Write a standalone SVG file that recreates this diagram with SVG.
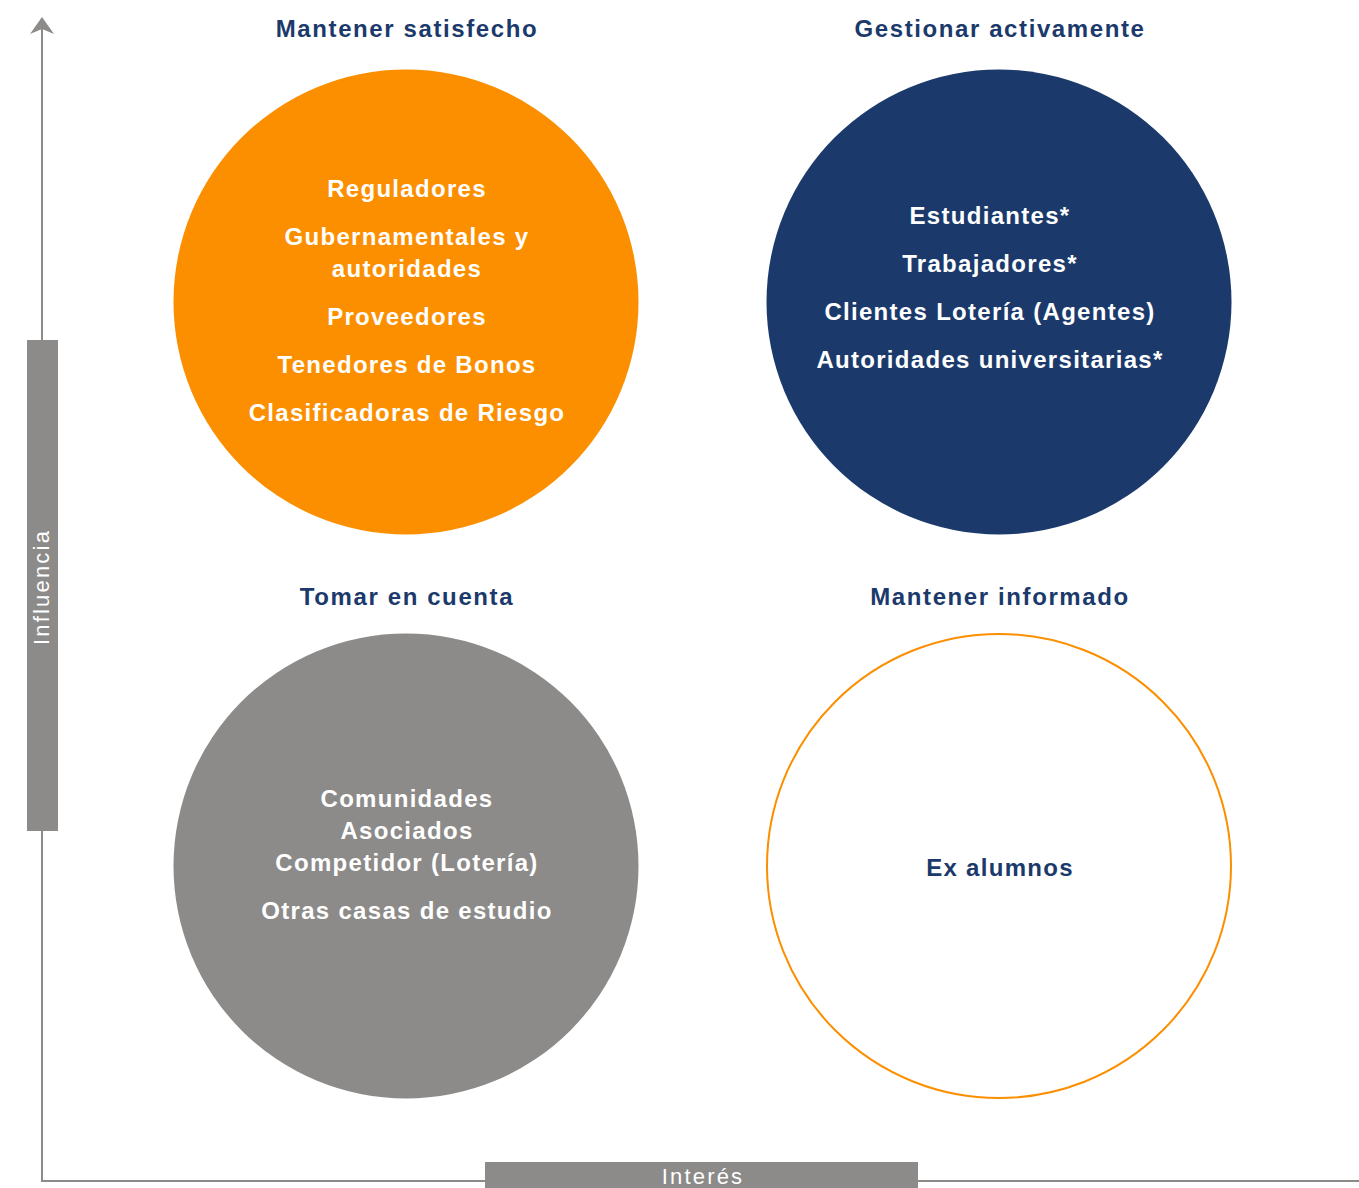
<svg xmlns="http://www.w3.org/2000/svg" width="1359" height="1188" viewBox="0 0 1359 1188">
<style>
.h{font-family:"Liberation Sans",Arial,sans-serif;font-size:24px;font-weight:bold;fill:#1b3a6b;text-anchor:middle;letter-spacing:1.6px}
.t{font-family:"Liberation Sans",Arial,sans-serif;font-size:24px;font-weight:bold;fill:#ffffff;text-anchor:middle;letter-spacing:1.3px}
.ax{font-family:"Liberation Sans",Arial,sans-serif;font-size:22px;fill:#ffffff;text-anchor:middle;letter-spacing:2.2px}
</style>
<rect width="1359" height="1188" fill="#ffffff"/>
<g id="axes">
<line x1="42" y1="1181" x2="42" y2="24" stroke="#8c8b89" stroke-width="2"/>
<path d="M30,34 L42,17 L54,34 L42,29 Z" fill="#8c8b89"/>
<line x1="41" y1="1181" x2="1359" y2="1181" stroke="#8c8b89" stroke-width="2"/>
<rect x="27" y="340" width="31" height="491" fill="#8c8b89"/>
<text class="ax" transform="translate(49,587) rotate(-90)">Influencia</text>
<rect x="485" y="1162" width="433" height="26" fill="#8c8b89"/>
<text class="ax" x="703" y="1184">Interés</text>
</g>
<g id="q1">
<text class="h" x="407" y="37">Mantener satisfecho</text>
<circle cx="406" cy="302" r="232.5" fill="#fb8f00"/>
<text class="t" x="407" y="197">Reguladores</text>
<text class="t" x="407" y="245">Gubernamentales y</text>
<text class="t" x="407" y="277">autoridades</text>
<text class="t" x="407" y="325">Proveedores</text>
<text class="t" x="407" y="373">Tenedores de Bonos</text>
<text class="t" x="407" y="421">Clasificadoras de Riesgo</text>
</g>
<g id="q2">
<text class="h" x="1000" y="37">Gestionar activamente</text>
<circle cx="999" cy="302" r="232.5" fill="#1b3a6b"/>
<text class="t" x="990" y="224">Estudiantes*</text>
<text class="t" x="990" y="272">Trabajadores*</text>
<text class="t" x="990" y="320">Clientes Lotería (Agentes)</text>
<text class="t" x="990" y="368">Autoridades universitarias*</text>
</g>
<g id="q3">
<text class="h" x="407" y="605">Tomar en cuenta</text>
<circle cx="406" cy="866" r="232.5" fill="#8c8b89"/>
<text class="t" x="407" y="807">Comunidades</text>
<text class="t" x="407" y="839">Asociados</text>
<text class="t" x="407" y="871">Competidor (Lotería)</text>
<text class="t" x="407" y="919">Otras casas de estudio</text>
</g>
<g id="q4">
<text class="h" x="1000" y="605">Mantener informado</text>
<circle cx="999" cy="866" r="232" fill="#ffffff" stroke="#fb8f00" stroke-width="2"/>
<text class="h" x="1000" y="876" style="letter-spacing:1.3px">Ex alumnos</text>
</g>
</svg>
